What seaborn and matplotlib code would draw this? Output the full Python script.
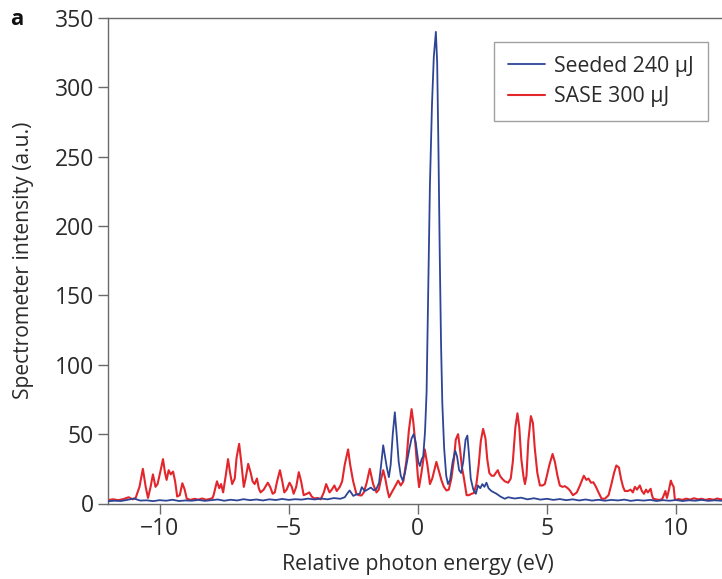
import matplotlib
matplotlib.use("Agg")
import matplotlib.pyplot as plt
import seaborn as sns
import pandas as pd

# Seeded spectrum, 240 uJ (relative photon energy in eV, intensity in a.u.)
seeded_energy = [
    -12.0, -11.75, -11.5, -11.25, -11.0, -10.75, -10.5, -10.25, -10.0, -9.75,
    -9.5, -9.25, -9.0, -8.75, -8.5, -8.25, -8.0, -7.75, -7.5, -7.25,
    -7.0, -6.75, -6.5, -6.25, -6.0, -5.75, -5.5, -5.25, -5.0, -4.75,
    -4.5, -4.25, -4.0, -3.75, -3.5, -3.25, -3.0, -2.83, -2.70, -2.64,
    -2.50, -2.38, -2.25, -2.17, -2.05, -1.95, -1.82, -1.70, -1.60, -1.50,
    -1.42, -1.34, -1.27, -1.20, -1.12, -1.05, -0.97, -0.89, -0.82, -0.74,
    -0.66, -0.58, -0.50, -0.42, -0.32, -0.24, -0.16, -0.08, 0.02, 0.08,
    0.15, 0.21, 0.28, 0.34, 0.40, 0.47, 0.55, 0.62, 0.70, 0.75,
    0.80, 0.85, 0.90, 0.95, 1.02, 1.10, 1.17, 1.25, 1.35, 1.45,
    1.52, 1.60, 1.68, 1.76, 1.85, 1.92, 1.98, 2.05, 2.15, 2.25,
    2.33, 2.42, 2.50, 2.58, 2.66, 2.74, 2.85, 2.95, 3.05, 3.20,
    3.37, 3.5, 3.75, 4.0, 4.25, 4.5, 4.75, 5.0, 5.25, 5.5,
    5.75, 6.0, 6.25, 6.5, 6.75, 7.0, 7.25, 7.5, 7.75, 8.0,
    8.25, 8.5, 8.75, 9.0, 9.25, 9.5, 9.75, 10.0, 10.25, 10.5,
    10.75, 11.0, 11.25, 11.5, 11.75, 12.0,
]
seeded_intensity = [
    1.6, 2.0, 1.8, 2.6, 3.6, 2.1, 2.3, 1.7, 2.4, 2.0,
    2.7, 1.8, 2.2, 2.0, 2.6, 1.9, 2.4, 2.9, 2.0, 2.7,
    2.2, 3.1, 2.4, 2.9, 2.2, 3.0, 2.5, 3.3, 2.6, 3.1,
    2.8, 3.5, 2.9, 3.6, 3.0, 3.9, 3.4, 4.5, 8.0, 9.4,
    5.5, 6.5, 7.0, 11.8, 9.0, 10.0, 11.5, 9.5, 10.6, 15.0,
    28.0, 42.0, 34.0, 26.0, 19.0, 28.0, 50.0, 65.8, 50.0, 30.0,
    20.0, 16.5, 22.0, 30.0, 40.0, 47.0, 50.0, 44.0, 30.0, 27.0,
    32.0, 34.0, 52.0, 80.0, 150.0, 230.0, 288.0, 322.0, 340.0, 318.0,
    255.0, 180.0, 115.0, 72.0, 40.0, 20.0, 14.0, 17.0, 30.0, 38.0,
    34.0, 24.0, 22.0, 30.0, 46.0, 49.0, 36.0, 18.0, 10.0, 7.0,
    13.0, 11.0, 14.0, 12.0, 15.0, 11.0, 9.0, 8.0, 7.0, 5.0,
    3.4, 4.5, 3.6, 4.2, 3.0, 3.8, 2.8, 3.4, 2.6, 3.2,
    2.4, 3.0, 2.2, 2.9, 2.1, 2.7, 2.0, 2.6, 2.2, 2.8,
    1.9, 2.5, 2.1, 2.6, 1.8, 2.4, 2.0, 2.5, 1.8, 2.3,
    2.0, 2.6, 1.9, 2.3, 2.0, 2.2,
]

# SASE spectrum, 300 uJ
sase_energy = [
    -12.0, -11.8, -11.6, -11.4, -11.2, -11.05, -10.93, -10.78, -10.65, -10.54,
    -10.45, -10.35, -10.26, -10.16, -10.08, -9.96, -9.87, -9.79, -9.73, -9.65,
    -9.57, -9.48, -9.40, -9.32, -9.22, -9.12, -9.03, -8.95, -8.8, -8.65,
    -8.5, -8.35, -8.2, -8.05, -7.95, -7.91, -7.78, -7.69, -7.62, -7.54,
    -7.44, -7.35, -7.27, -7.19, -7.09, -7.02, -6.92, -6.84, -6.74, -6.67,
    -6.57, -6.47, -6.40, -6.32, -6.23, -6.16, -6.09, -5.97, -5.81, -5.72,
    -5.62, -5.54, -5.45, -5.34, -5.25, -5.17, -5.08, -4.97, -4.88, -4.81,
    -4.71, -4.61, -4.52, -4.42, -4.30, -4.20, -4.11, -4.00, -3.88, -3.76,
    -3.64, -3.55, -3.42, -3.33, -3.23, -3.14, -3.02, -2.93, -2.83, -2.70,
    -2.62, -2.51, -2.38, -2.29, -2.18, -2.09, -1.98, -1.86, -1.73, -1.60,
    -1.51, -1.43, -1.34, -1.26, -1.18, -1.11, -1.01, -0.89, -0.76, -0.66,
    -0.56, -0.44, -0.35, -0.24, -0.17, -0.08, 0.0, 0.05, 0.14, 0.27,
    0.37, 0.47, 0.56, 0.72, 0.81, 0.92, 1.01, 1.11, 1.20, 1.30,
    1.40, 1.47, 1.56, 1.63, 1.71, 1.78, 1.89, 1.98, 2.08, 2.17,
    2.27, 2.36, 2.44, 2.53, 2.62, 2.69, 2.77, 2.86, 2.95, 3.02,
    3.10, 3.18, 3.26, 3.37, 3.50, 3.60, 3.68, 3.78, 3.86, 3.93,
    4.01, 4.09, 4.15, 4.21, 4.28, 4.38, 4.46, 4.53, 4.63, 4.73,
    4.83, 4.92, 5.00, 5.10, 5.22, 5.31, 5.41, 5.50, 5.60, 5.70,
    5.81, 5.89, 6.01, 6.09, 6.16, 6.28, 6.43, 6.53, 6.61, 6.71,
    6.80, 6.90, 7.00, 7.12, 7.25, 7.39, 7.50, 7.60, 7.69, 7.79,
    7.87, 7.95, 8.02, 8.14, 8.24, 8.33, 8.41, 8.49, 8.60, 8.68,
    8.76, 8.84, 8.91, 9.02, 9.07, 9.12, 9.22, 9.34, 9.46, 9.53,
    9.59, 9.65, 9.73, 9.80, 9.85, 9.91, 9.96, 10.1, 10.25, 10.4,
    10.55, 10.7, 10.85, 11.0, 11.15, 11.3, 11.45, 11.6, 11.75, 11.9,
    12.0,
]
sase_intensity = [
    2.5, 3.0, 2.4, 3.2, 4.5, 3.0, 4.0, 12.0, 25.0, 12.0,
    4.0, 12.0, 21.0, 12.0, 14.0, 24.0, 32.0, 22.0, 17.0, 24.0,
    21.0, 23.0, 16.0, 5.0, 6.0, 14.6, 10.0, 3.5, 2.6, 3.4,
    2.8, 3.6, 2.7, 3.3, 4.0, 6.0, 16.0, 11.0, 14.0, 8.0,
    20.0, 32.0, 22.0, 14.0, 18.0, 33.0, 43.0, 30.0, 12.0, 18.0,
    28.6, 22.0, 16.0, 14.0, 18.0, 11.0, 8.0, 10.0, 15.0, 12.0,
    7.0, 8.0, 16.0, 24.0, 16.0, 8.0, 10.0, 15.0, 12.0, 7.0,
    12.0, 22.6, 16.0, 6.0, 7.0, 8.0, 5.0, 3.6, 4.0, 3.0,
    8.0, 14.0, 8.0, 10.0, 13.0, 9.0, 12.0, 16.0, 28.0, 39.0,
    28.0, 16.5, 7.0, 6.0, 5.8, 8.0, 15.0, 25.0, 14.0, 8.0,
    10.0, 17.0, 24.0, 18.0, 10.0, 4.5, 8.0, 12.0, 16.5, 13.0,
    16.0, 31.0, 52.0, 68.0, 58.0, 40.0, 20.0, 11.8, 22.0, 39.0,
    28.0, 14.0, 18.0, 30.0, 24.0, 16.5, 12.0, 9.4, 10.0, 18.0,
    32.0, 46.0, 50.0, 40.0, 26.0, 19.0, 6.0, 6.0, 7.0, 7.5,
    14.0, 28.0, 45.0, 53.8, 47.0, 32.0, 22.0, 20.0, 20.0, 22.0,
    24.0, 20.0, 18.0, 16.0, 15.0, 18.0, 30.0, 55.0, 65.0, 55.0,
    32.0, 20.0, 14.0, 20.0, 45.0, 63.0, 58.0, 40.0, 22.0, 13.0,
    13.0, 14.0, 20.0, 28.0, 35.7, 30.0, 20.0, 13.0, 12.0, 12.5,
    11.0, 9.4, 6.0, 7.0, 8.0, 13.0, 20.0, 17.0, 18.0, 15.0,
    15.3, 12.0, 8.0, 3.4, 3.5, 6.0, 14.0, 22.0, 27.4, 26.0,
    18.0, 12.0, 9.0, 9.0, 10.0, 8.0, 12.0, 10.0, 13.0, 9.0,
    7.0, 10.0, 8.0, 10.6, 6.0, 3.4, 3.0, 2.6, 3.0, 6.0,
    9.0, 4.0, 10.0, 16.5, 14.0, 12.0, 2.5, 3.2, 2.6, 3.5,
    2.8, 3.8, 3.0, 3.4, 2.6, 3.3, 2.7, 3.6, 2.9, 4.0,
    3.0,
]

series_labels = ["Seeded 240 \u03bcJ", "SASE 300 \u03bcJ"]
series_colors = ["#2E4596", "#E2262C"]
x_ticks = [-10, -5, 0, 5, 10]
y_ticks = [0, 50, 100, 150, 200, 250, 300, 350]

seeded = pd.DataFrame({"energy": seeded_energy, "intensity": seeded_intensity})
sase = pd.DataFrame({"energy": sase_energy, "intensity": sase_intensity})

sns.set_style("ticks")
plt.rcParams["font.family"] = ["Open Sans", "DejaVu Sans"]

fig = plt.figure(figsize=(7.22, 5.79), dpi=100)
ax = fig.add_axes([108 / 722, 1 - 503.5 / 579, (727.6 - 108) / 722, (503.5 - 18) / 579])

sns.lineplot(data=seeded, x="energy", y="intensity", ax=ax, color=series_colors[0],
             linewidth=1.3, label=series_labels[0], estimator=None, sort=False, zorder=3)
sns.lineplot(data=sase, x="energy", y="intensity", ax=ax, color=series_colors[1],
             linewidth=1.5, label=series_labels[1], estimator=None, sort=False, zorder=2)

ax.set_xlim(-12, 12)
ax.set_ylim(0, 350)
ax.set_xticks(x_ticks)
ax.set_yticks(y_ticks)
ax.set_xticklabels([f"{t}".replace("-", "\u2212") for t in x_ticks])

spine_color = "#6a6a6a"
for side in ["left", "top", "right", "bottom"]:
    ax.spines[side].set_visible(True)
    ax.spines[side].set_color(spine_color)
    ax.spines[side].set_linewidth(1.0)
ax.tick_params(axis="both", direction="out", length=7, width=1.0, color=spine_color,
               labelsize=16.5, labelcolor="#2a2a2a", pad=3)

ax.set_xlabel("Relative photon energy (eV)", fontsize=15.3, color="#2a2a2a", labelpad=9)
ax.set_ylabel("Spectrometer intensity (a.u.)", fontsize=15.2, color="#2a2a2a", labelpad=15)

leg = ax.legend(loc="upper right", bbox_to_anchor=(708 / 722, 1 - 42 / 579),
                bbox_transform=fig.transFigure, borderaxespad=0, frameon=True,
                fancybox=False, fontsize=15.3, handlelength=1.75, handletextpad=0.45,
                borderpad=0.65, labelspacing=0.45)
leg.get_frame().set_edgecolor("#8a8a8a")
leg.get_frame().set_linewidth(1.0)
for t in leg.get_texts():
    t.set_color("#2a2a2a")

fig.text(10 / 722, 1 - 25 / 579, "a", fontsize=16, fontweight="bold", color="#111111",
         va="baseline", ha="left")

fig.savefig("out.png", dpi=100)
